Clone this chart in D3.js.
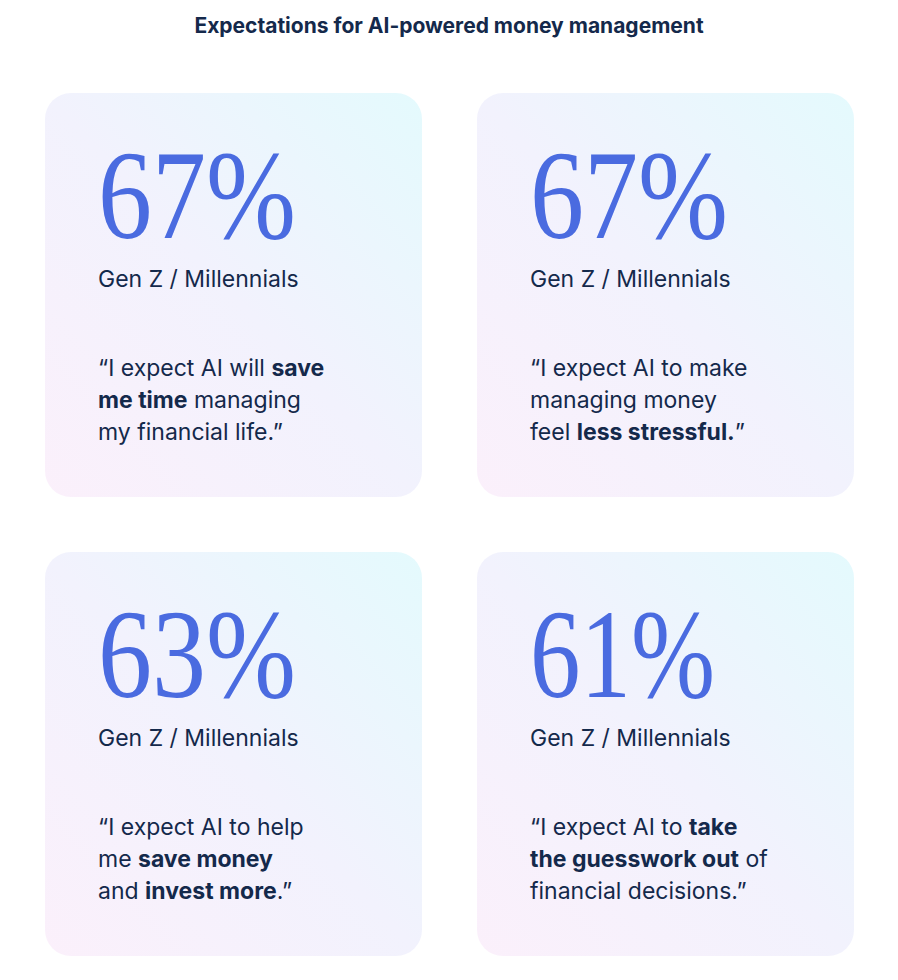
<!DOCTYPE html>
<html>
<head>
<meta charset="utf-8">
<script src="https://cdn.jsdelivr.net/npm/d3@7"></script>
<style>
  body { margin: 0; background: #fff; }
  svg { display: block; font-family: Inter, "Noto Sans", sans-serif; }
</style>
</head>
<body>
<svg id="chart" width="898" height="980"></svg>
<script>
var title = "Expectations for AI-powered money management";
var values = [67, 67, 63, 61];
var groups = ["Gen Z / Millennials", "Gen Z / Millennials", "Gen Z / Millennials", "Gen Z / Millennials"];
// each quote: lines of [text, bold] segments
var quotes = [
    [[["\u201CI expect AI will ", 0], ["save", 1]], [["me time", 1], [" managing", 0]], [["my financial life.\u201D", 0]]],
    [[["\u201CI expect AI to make", 0]], [["managing money", 0]], [["feel ", 0], ["less stressful.", 1], ["\u201D", 0]]],
    [[["\u201CI expect AI to help", 0]], [["me ", 0], ["save money", 1]], [["and ", 0], ["invest more", 1], [".\u201D", 0]]],
    [[["\u201CI expect AI to ", 0], ["take", 1]], [["the guesswork out", 1], [" of", 0]], [["financial decisions.\u201D", 0]]]
];

var svg = d3.select("#chart");
var ink = "#14294b";

var defs = svg.append("defs");
var g = defs.append("linearGradient").attr("id", "cardbg")
    .attr("x1", "0%").attr("y1", "100%").attr("x2", "100%").attr("y2", "0%");
g.append("stop").attr("offset", "0%").attr("stop-color", "#fbf0fb");
g.append("stop").attr("offset", "50%").attr("stop-color", "#f2f2fd");
g.append("stop").attr("offset", "100%").attr("stop-color", "#e4fafd");

// card size 377 x 404, gap 55
var x = d3.scaleBand().domain([0, 1]).range([45, 854]).paddingInner(55 / 432 * 1);
var y = d3.scaleBand().domain([0, 1]).range([93, 956]).paddingInner(55 / 459.5);

svg.append("text").attr("x", 449).attr("y", 33).attr("text-anchor", "middle")
    .attr("font-size", 21).attr("font-weight", 700).attr("fill", ink).text(title);

var cards = svg.selectAll("g.card").data(values).join("g").attr("class", "card")
    .attr("transform", function (d, i) { return "translate(" + x(i % 2) + "," + y(Math.floor(i / 2)) + ")"; });

cards.append("rect").attr("width", x.bandwidth()).attr("height", y.bandwidth())
    .attr("rx", 26).attr("fill", "url(#cardbg)");

cards.append("text").attr("x", 53).attr("y", 145)
    .attr("font-family", "'Liberation Serif', 'DejaVu Serif', serif")
    .attr("font-size", 128).attr("fill", "#4a6be0")
    .attr("textLength", function (d) { return d === 61 ? 185 : 198; })
    .attr("lengthAdjust", "spacingAndGlyphs")
    .text(function (d) { return d + "%"; });

cards.append("text").attr("x", 53).attr("y", 194)
    .attr("font-size", 23).attr("fill", ink)
    .text(function (d, i) { return groups[i]; });

cards.each(function (d, i) {
    var t = d3.select(this).append("text").attr("x", 53).attr("y", 283)
        .attr("font-size", 23).attr("fill", ink);
    quotes[i].forEach(function (line, li) {
        line.forEach(function (seg, si) {
            var s = t.append("tspan").text(seg[0]).attr("font-weight", seg[1] ? 700 : 400);
            if (si === 0) s.attr("x", 53).attr("dy", li === 0 ? 0 : 32);
        });
    });
});
</script>
</body>
</html>
